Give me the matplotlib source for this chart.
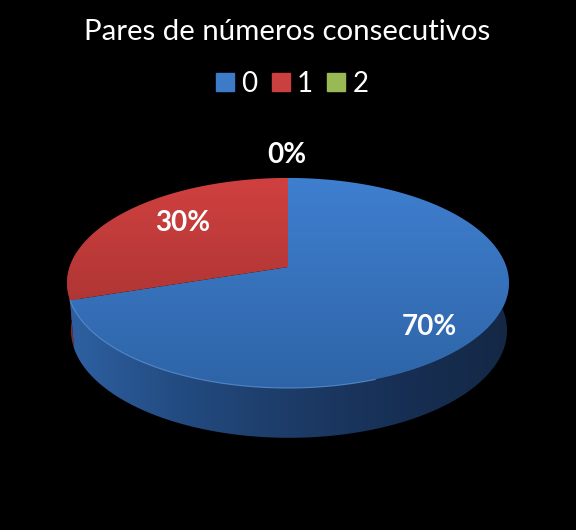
import numpy as np
import matplotlib
matplotlib.use("Agg")
import matplotlib.pyplot as plt
from matplotlib.colors import LinearSegmentedColormap
from matplotlib.lines import Line2D
from matplotlib.patches import Polygon

categories = ['0', '1', '2']
shares = [70, 30, 0]
top_colors = [('#3f7fd0', '#2e64a6'), ('#d04140', '#982e2c'), ('#9bbb59', '#9bbb59')]
legend_colors = ['#3d7bc9', '#c9403e', '#98b954']
side_stops = {0: ['#2f62a4', '#234c82', '#1d3c68', '#172f54', '#142844'],
              1: ['#a83230', '#8c2927']}
title = 'Pares de números consecutivos'
label_xy = [(429, 327), (183, 223), (287, 155)]

plt.rcParams['font.family'] = ['Lato', 'DejaVu Sans']
fig = plt.figure(figsize=(5.76, 5.30), dpi=100, facecolor='black')
ax = fig.add_axes([0, 0, 1, 1])
ax.set_facecolor('black')
ax.set_axis_off()


def rim(theta, y0, a, b, x0=288, k=0.152):
    """theta: degrees clockwise from 12 o'clock; perspective projection of the disc."""
    t = np.radians(theta)
    u, v = np.sin(t), np.cos(t)
    d = 1 + k * v
    return x0 + b * u / d, y0 - a * v / d


def top(theta):
    return rim(theta, 267, 102.6, 218.4)


def bottom(theta):
    return rim(theta, 314, 105, 215.5, x0=289)


def fill_gradient(verts, colors, horizontal, extent, z):
    cmap = LinearSegmentedColormap.from_list('g', colors)
    grad = np.linspace(0, 1, 256)
    grad = grad[None, :] if horizontal else grad[:, None]
    im = ax.imshow(grad, cmap=cmap, extent=extent, aspect='auto', zorder=z, interpolation='bilinear')
    patch = Polygon(verts, closed=True, transform=ax.transData, fill=False, lw=0)
    ax.add_patch(patch)
    im.set_clip_path(patch)


edges = 360 * np.cumsum([0] + shares) / sum(shares)

# side wall: the front part of each slice, between its top rim and bottom rim
for i, (start, end) in enumerate(zip(edges[:-1], edges[1:])):
    lo, hi = max(start, 85), min(end, 278)
    if hi <= lo or i not in side_stops:
        continue
    th = np.linspace(lo, hi, 200)
    xt, yt = top(th)
    xb, yb = bottom(th)
    verts = np.r_[np.c_[xt, yt], np.c_[xb, yb][::-1]]
    fill_gradient(verts, side_stops[i][::-1] if i == 1 else side_stops[i], True,
                  (60, 515, 445, 170), 1 + (1 - i) * 0.1)

# top surface
for i, (start, end) in enumerate(zip(edges[:-1], edges[1:])):
    if end <= start:
        continue
    th = np.linspace(start, end, 400)
    xt, yt = top(th)
    verts = np.r_[[(288, 267)], np.c_[xt, yt]]
    fill_gradient(verts, top_colors[i], False, (60, 515, 392, 176), 2)

# light rim along the visible front edge of the blue slice
th = np.linspace(160, edges[1], 200)
xr, yr = top(th)
ax.plot(xr, yr, color='#5c96dc', lw=0.8, alpha=0.8, zorder=3)

# labels
for share, (x, y) in zip(shares, label_xy):
    ax.text(x, y, f'{share}%', color='white', fontsize=20, fontweight='bold',
            ha='center', va='center', zorder=5)

ax.text(287.5, 32, title, color='white', fontsize=21.2, ha='center', va='center')

handles = [Line2D([], [], ls='none', marker='s', ms=12.5, mfc=c, mec=c) for c in legend_colors]
leg = ax.legend(handles, categories, ncol=3, loc='center', bbox_to_anchor=(285.5 / 576, 1 - 83.5 / 530),
                frameon=False, fontsize=20, labelcolor='white', handletextpad=-0.22,
                columnspacing=0.05, handlelength=1.6, borderpad=0, borderaxespad=0)

ax.set_xlim(0, 576)
ax.set_ylim(530, 0)
fig.savefig('out.png', dpi=100, facecolor='black')
